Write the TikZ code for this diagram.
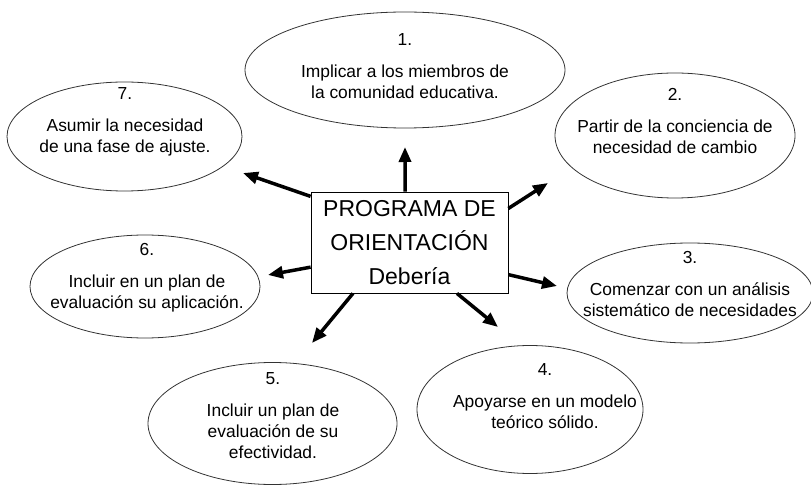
\documentclass[tikz,border=0pt]{standalone}
\usepackage{fontspec}
\setmainfont{Liberation Sans}
\usetikzlibrary{shapes.geometric,arrows.meta}

\begin{document}
\begin{tikzpicture}[x=1pt,y=-1pt,
  bubble/.style={ellipse,draw=black!80,line width=0.8pt,inner sep=0pt},
  txt/.style={align=center,inner sep=0pt,font=\fontsize{17.4}{21}\selectfont},
  arr/.style={line width=3.5pt,-{Triangle[length=15pt,width=12pt]}}]

  \useasboundingbox (0,0) rectangle (811,486);

  % central box
  \node[draw,line width=0.8pt,minimum width=197pt,minimum height=101pt,inner sep=0pt,
        align=center,font=\fontsize{23}{34}\selectfont] (prog) at (409.5,242.5)
        {PROGRAMA DE\\ORIENTACIÓN\\Debería};

  % ellipses
  \node[bubble,minimum width=320pt,minimum height=116pt] (e1) at (405,70) {};
  \node[bubble,minimum width=240pt,minimum height=125pt] (e2) at (675,135.5) {};
  \node[bubble,minimum width=246pt,minimum height=100pt] (e3) at (690,293) {};
  \node[bubble,minimum width=226pt,minimum height=128pt] (e4) at (530,409.5) {};
  \node[bubble,minimum width=249pt,minimum height=122pt] (e5) at (272.5,423.5) {};
  \node[bubble,minimum width=230pt,minimum height=103pt] (e6) at (145,286.5) {};
  \node[bubble,minimum width=235pt,minimum height=109pt] (e7) at (124.5,136.5) {};

  % texts
  \node[txt] (l1) at (405,66) {1.\\[11pt]Implicar a los miembros de\\la comunidad educativa.};
  \node[txt] (l2) at (675,121) {2.\\[11pt]Partir de la conciencia de\\necesidad de cambio};
  \node[txt] (l3) at (690,284) {3.\\[11pt]Comenzar con un análisis\\sistemático de necesidades};
  \node[txt] (l4) at (545,396) {4.\\[11pt]Apoyarse en un modelo\\teórico sólido.};
  \node[txt] (l5) at (273,416) {5.\\[11pt]Incluir un plan de\\evaluación de su\\efectividad.};
  \node[txt] (l6) at (147,278) {6.\\[11pt]Incluir en un plan de\\evaluación su aplicación.};
  \node[txt] (l7) at (125,122) {7.\\[11pt]Asumir la necesidad\\de una fase de ajuste.};

  % arrows
  \coordinate (a1) at (405,147);
  \coordinate (a2) at (548,183);
  \coordinate (a3) at (557,286);
  \coordinate (a4) at (498,327);
  \coordinate (a5) at (312,343);
  \coordinate (a6) at (268,275);
  \coordinate (a7) at (243,173);
  \draw[arr] (prog.95) -- (a1);
  \draw[arr] (prog.19) -- (a2);
  \draw[arr] (prog.342) -- (a3);
  \draw[arr] (prog.313) -- (a4);
  \draw[arr] (prog.222) -- (a5);
  \draw[arr] (prog.194) -- (a6);
  \draw[arr] (prog.155) -- (a7);

\end{tikzpicture}
\end{document}
